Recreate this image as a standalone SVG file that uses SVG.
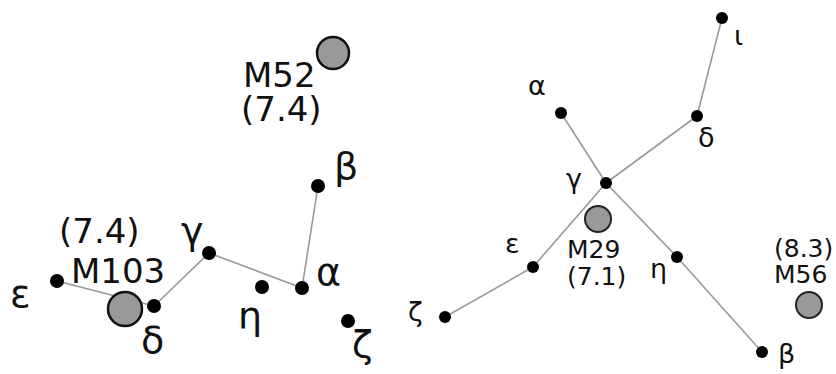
<svg xmlns="http://www.w3.org/2000/svg" width="836" height="374" viewBox="0 0 836 374">
<style>
.star{fill:#000}
.cl{fill:#999;stroke:#111;stroke-width:2.5}
.cls{fill:#999;stroke:#222;stroke-width:2}
.ln{stroke:#999;stroke-width:1.6;fill:none}
text{font-family:"DejaVu Sans",sans-serif;fill:#111}
.big{font-size:34px}
.bg{font-size:38px}
.sm{font-size:25px}
.sg{font-size:27px}
</style>
<rect width="836" height="374" fill="#fff"/>
<g id="connectors">
<line class="ln" x1="57" y1="281" x2="154" y2="306"/>
<line class="ln" x1="154" y1="306" x2="209" y2="253"/>
<line class="ln" x1="209" y1="253" x2="302" y2="288"/>
<line class="ln" x1="302" y1="288" x2="318" y2="186"/>
<line class="ln" x1="561" y1="113" x2="606" y2="183"/>
<line class="ln" x1="606" y1="183" x2="697" y2="116"/>
<line class="ln" x1="697" y1="116" x2="722" y2="18"/>
<line class="ln" x1="606" y1="183" x2="533" y2="267"/>
<line class="ln" x1="533" y1="267" x2="445" y2="317"/>
<line class="ln" x1="606" y1="183" x2="677" y2="257"/>
<line class="ln" x1="677" y1="257" x2="762" y2="352"/>
</g>
<g id="left-eps"><circle class="star" cx="57" cy="281" r="7"/><text class="bg" x="10" y="307">ε</text></g>
<g id="M103"><circle class="cl" cx="125" cy="309" r="17"/><text class="big" x="59" y="243">(7.4)</text><text class="big" x="71" y="283">M103</text></g>
<g id="left-delta"><circle class="star" cx="154" cy="306" r="7"/><text class="bg" x="141" y="353">δ</text></g>
<g id="left-gamma"><circle class="star" cx="209" cy="253" r="7"/><text class="bg" x="181" y="244">γ</text></g>
<g id="left-eta"><circle class="star" cx="262" cy="287" r="7"/><text class="bg" x="238" y="329">η</text></g>
<g id="left-alpha"><circle class="star" cx="302" cy="288" r="7"/><text class="bg" x="316" y="285">α</text></g>
<g id="left-beta"><circle class="star" cx="318" cy="186" r="7"/><text class="bg" x="334" y="179">β</text></g>
<g id="left-zeta"><circle class="star" cx="348" cy="321" r="7"/><text class="bg" x="352" y="357">ζ</text></g>
<g id="M52"><circle class="cl" cx="333" cy="53" r="16"/><text class="big" x="243" y="87">M52</text><text class="big" x="241" y="121">(7.4)</text></g>
<g id="right-iota"><circle class="star" cx="722" cy="18" r="6"/><text class="sg" x="734" y="45">ι</text></g>
<g id="right-delta"><circle class="star" cx="697" cy="116" r="6"/><text class="sg" x="698" y="147">δ</text></g>
<g id="right-alpha"><circle class="star" cx="561" cy="113" r="6"/><text class="sg" x="528" y="95">α</text></g>
<g id="right-gamma"><circle class="star" cx="606" cy="183" r="6"/><text class="sg" x="566" y="188">γ</text></g>
<g id="M29"><circle class="cls" cx="598" cy="219" r="13"/><text class="sm" x="567" y="258">M29</text><text class="sm" x="567" y="285">(7.1)</text></g>
<g id="right-eps"><circle class="star" cx="533" cy="267" r="6"/><text class="sg" x="505" y="253">ε</text></g>
<g id="right-zeta"><circle class="star" cx="445" cy="317" r="6"/><text class="sg" x="408" y="321">ζ</text></g>
<g id="right-eta"><circle class="star" cx="677" cy="257" r="6"/><text class="sg" x="650" y="278">η</text></g>
<g id="right-beta"><circle class="star" cx="762" cy="352" r="6"/><text class="sg" x="778" y="363">β</text></g>
<g id="M56"><circle class="cls" cx="809" cy="305" r="13"/><text class="sm" x="774" y="257">(8.3)</text><text class="sm" x="774" y="283">M56</text></g>
</svg>
